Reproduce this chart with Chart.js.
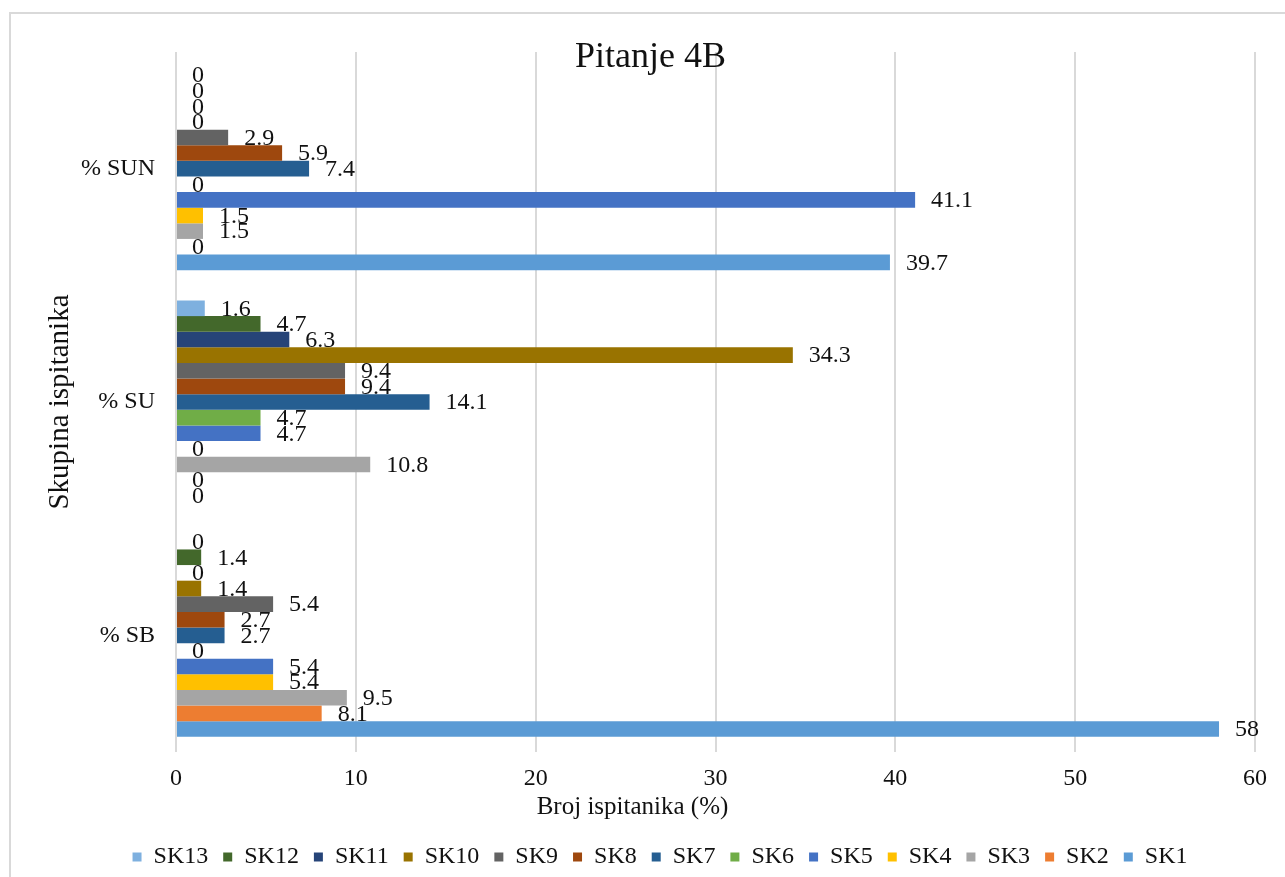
<!DOCTYPE html>
<html>
<head>
<meta charset="utf-8">
<script src="https://cdn.jsdelivr.net/npm/chart.js@4.4.1/dist/chart.umd.min.js"></script>
<style>
  html, body { margin: 0; padding: 0; background: #fff; overflow: hidden; }
  #wrap { width: 1285px; height: 877px; position: relative; }
</style>
</head>
<body>
<div id="wrap"><canvas id="chart4b" width="1285" height="877"></canvas></div>
<script>
// categories, top to bottom as in the picture
const categories = ['% SUN', '% SU', '% SB'];

const seriesNames = ['SK1', 'SK2', 'SK3', 'SK4', 'SK5', 'SK6', 'SK7', 'SK8', 'SK9', 'SK10', 'SK11', 'SK12', 'SK13'];
const sk1 = [39.7, 0, 58];
const sk2 = [0, 0, 8.1];
const sk3 = [1.5, 10.8, 9.5];
const sk4 = [1.5, 0, 5.4];
const sk5 = [41.1, 4.7, 5.4];
const sk6 = [0, 4.7, 0];
const sk7 = [7.4, 14.1, 2.7];
const sk8 = [5.9, 9.4, 2.7];
const sk9 = [2.9, 9.4, 5.4];
const sk10 = [0, 34.3, 1.4];
const sk11 = [0, 6.3, 0];
const sk12 = [0, 4.7, 1.4];
const sk13 = [0, 1.6, 0];
const seriesValues = [sk1, sk2, sk3, sk4, sk5, sk6, sk7, sk8, sk9, sk10, sk11, sk12, sk13];

const xTicks = [0, 10, 20, 30, 40, 50, 60];

const colors = ['#5B9BD5', '#ED7D31', '#A5A5A5', '#FFC000', '#4472C4', '#70AD47',
  '#255E91', '#9E480E', '#636363', '#997300', '#264478', '#43682B', '#7EB0DF'];

const serif = "'Liberation Serif', 'Times New Roman', serif";

// SK13 first so it sits on top of each group and leads the legend
const datasets = seriesNames.map((name, i) => ({
  label: name,
  data: seriesValues[i],
  backgroundColor: colors[i],
  borderWidth: 0
})).reverse();

const valueLabels = {
  id: 'valueLabels',
  afterDatasetsDraw(chart) {
    const ctx = chart.ctx;
    ctx.save();
    ctx.font = '24px ' + serif;
    ctx.fillStyle = '#111';
    ctx.textAlign = 'left';
    ctx.textBaseline = 'middle';
    chart.data.datasets.forEach((ds, i) => {
      const meta = chart.getDatasetMeta(i);
      meta.data.forEach((bar, j) => {
        ctx.fillText(String(ds.data[j]), bar.x + 16, bar.y + 1);
      });
    });
    ctx.restore();
  }
};

// outer frame, chart title and x axis title (Excel places these off the plot centre)
const frameAndTitles = {
  id: 'frameAndTitles',
  beforeDraw(chart) {
    const ctx = chart.ctx;
    ctx.save();
    ctx.strokeStyle = '#d9d9d9';
    ctx.lineWidth = 2;
    ctx.strokeRect(10, 13, 1400, 1000);
    ctx.restore();
  },
  afterDraw(chart) {
    const ctx = chart.ctx;
    ctx.save();
    ctx.fillStyle = '#111';
    ctx.textAlign = 'center';
    ctx.textBaseline = 'alphabetic';
    ctx.font = '36px ' + serif;
    ctx.fillText('Pitanje 4B', chart.width / 2 + 8, 67);
    ctx.textBaseline = 'middle';
    ctx.font = '25px ' + serif;
    ctx.fillText('Broj ispitanika (%)', chart.width / 2 - 10, chart.chartArea.bottom + 55);
    ctx.restore();
  }
};

new Chart(document.getElementById('chart4b'), {
  type: 'bar',
  data: { labels: categories, datasets: datasets },
  options: {
    indexAxis: 'y',
    responsive: false,
    animation: false,
    categoryPercentage: 0.87,
    barPercentage: 1,
    layout: { padding: { left: 65, right: 30, top: 52, bottom: -2 } },
    scales: {
      x: {
        min: 0,
        max: 60,
        afterBuildTicks(scale) { scale.ticks = xTicks.map(v => ({ value: v })); },
        afterFit(scale) { scale.height = 78; },
        grid: { color: '#d9d9d9', lineWidth: 2, drawTicks: false },
        border: { display: false },
        ticks: { padding: 12, color: '#111', font: { family: serif, size: 24 } }
      },
      y: {
        afterFit(scale) { scale.width = 111; },
        grid: { display: false, drawTicks: false },
        border: { display: false },
        ticks: { padding: 21, color: '#111', font: { family: serif, size: 24 } },
        title: {
          display: true,
          text: 'Skupina ispitanika',
          color: '#111',
          font: { family: serif, size: 29 },
          padding: { top: -22, bottom: 0 }
        }
      }
    },
    plugins: {
      legend: {
        position: 'bottom',
        labels: {
          boxWidth: 9,
          boxHeight: 9,
          padding: 15,
          color: '#111',
          font: { family: serif, size: 24 }
        }
      },
      tooltip: { enabled: false }
    }
  },
  plugins: [valueLabels, frameAndTitles]
});
</script>
</body>
</html>
